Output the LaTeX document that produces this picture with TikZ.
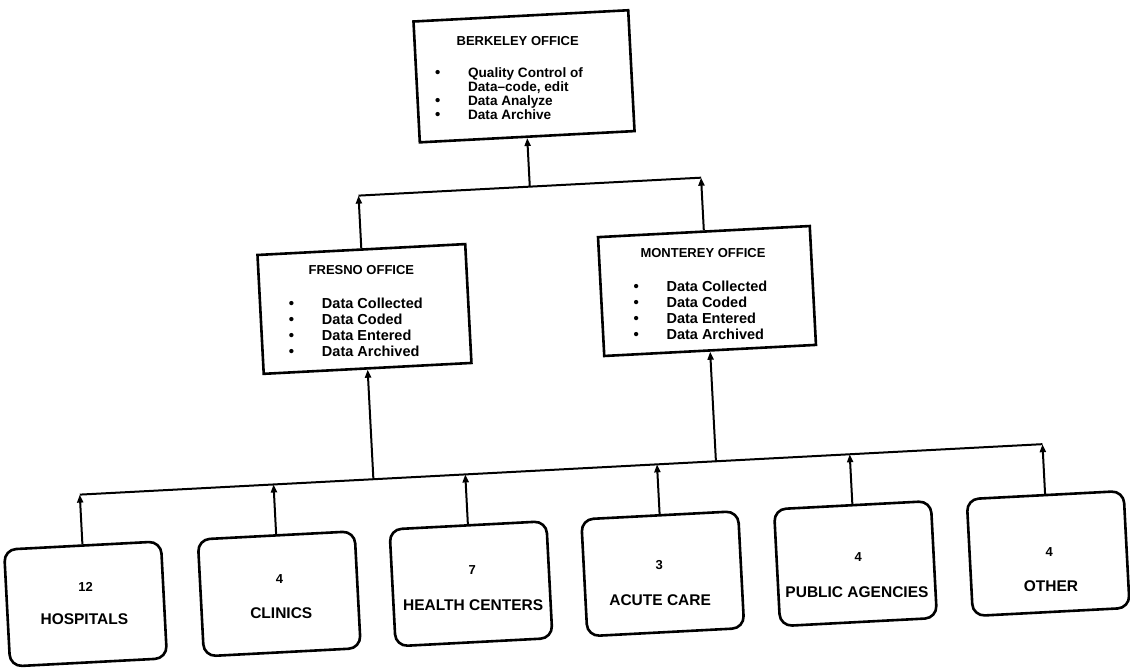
\documentclass[tikz,border=0pt]{standalone}
\usepackage{fontspec}
\setmainfont{Liberation Sans}
\usetikzlibrary{arrows.meta}
\newcommand\obul{\makebox[33pt][l]{\fontsize{15}{14}\selectfont\textbullet}}
\newcommand\onobul{\makebox[33pt][l]{}}
\begin{document}
\begin{tikzpicture}[x=1pt,y=-1pt,
  office/.style={draw, line width=2.6pt, rectangle, inner sep=0pt},
  site/.style={draw, line width=2.6pt, rounded corners=12pt, minimum width=157pt, minimum height=117pt, inner sep=0pt},
  link/.style={line width=2pt},
  arr/.style={link, -{Triangle[length=8pt,width=6pt]}},
  txt/.style={inner sep=0pt, rotate=-3},
  ttl/.style={txt, font=\bfseries\fontsize{13}{15}\selectfont},
  list/.style={txt, font=\bfseries\fontsize{14.5}{16}\selectfont, align=left, anchor=north west},
  blist/.style={txt, font=\bfseries\fontsize{13.6}{14}\selectfont, align=left, anchor=north west},
  num/.style={txt, font=\bfseries\fontsize{13}{15}\selectfont},
  lbl/.style={txt, font=\bfseries\fontsize{15.5}{17}\selectfont}]
\fill[white] (0,0) rectangle (1130,667);
\useasboundingbox (0,0) rectangle (1130,667);
\begin{scope}[rotate around={3:(565,333)}, transform shape]
% offices
\node[office, minimum width=215pt, minimum height=121pt] (berk) at (537.5,74.5) {};
\node[office, minimum width=208pt, minimum height=119pt] (fres) at (366,298.5) {};
\node[office, minimum width=212pt, minimum height=119pt] (mont) at (709,298.5) {};
% Berkeley text
\node[ttl] (berkT) at (533,39) {BERKELEY OFFICE};
\node[blist] (berkL) at (449,60.5) {\obul Quality Control of\\ \onobul Data--code, edit\\ \obul Data Analyze\\ \obul Data Archive};
% Fresno text
\node[ttl] (fresT) at (365,259) {FRESNO OFFICE};
\node[list] (fresL) at (291,283.7) {\obul Data Collected\\ \obul Data Coded\\ \obul Data Entered\\ \obul Data Archived};
% Monterey text
\node[ttl] (montT) at (707,260) {MONTEREY OFFICE};
\node[list] (montL) at (636,284.7) {\obul Data Collected\\ \obul Data Coded\\ \obul Data Entered\\ \obul Data Archived};
% sites
\node[site] (hosp) at (72,578.5) {};
\node[site] (clin) at (266,578.5) {};
\node[site] (hc) at (458,578.5) {};
\node[site] (ac) at (650,578.5) {};
\node[site] (pa) at (843,578.5) {};
\node[site] (oth) at (1036,578.5) {};
\node[num] (hospN) at (73,562) {12};
\node[lbl] (hospL) at (70,594) {HOSPITALS};
\node[num] (clinN) at (267,564) {4};
\node[lbl] (clinL) at (267,598) {CLINICS};
\node[num] (hcN) at (460,565) {7};
\node[lbl] (hcL) at (459,600) {HEALTH CENTERS};
\node[num] (acN) at (647,570) {3};
\node[lbl] (acL) at (646,605) {ACUTE CARE};
\node[num] (paN) at (846,572) {4};
\node[lbl] (paL) at (843,607) {PUBLIC AGENCIES};
\node[num] (othN) at (1037,577) {4};
\node[lbl] (othL) at (1037,611) {OTHER};
% bus coordinates
\coordinate (j1) at (72,469);
\coordinate (j2) at (266,469);
\coordinate (jF) at (366,469);
\coordinate (j3) at (458,469);
\coordinate (j4) at (650,469);
\coordinate (jM) at (709,469);
\coordinate (j5) at (843,469);
\coordinate (j6) at (1036,469);
\coordinate (uF) at (366,185);
\coordinate (uB) at (537.5,185);
\coordinate (uM) at (709,185);
% connectors
\draw[link] (j1) -- (j6);
\draw[arr] (hosp.north) -- (j1);
\draw[arr] (clin.north) -- (j2);
\draw[arr] (hc.north) -- (j3);
\draw[arr] (ac.north) -- (j4);
\draw[arr] (pa.north) -- (j5);
\draw[arr] (oth.north) -- (j6);
\draw[arr] (jF) -- (fres.south);
\draw[arr] (jM) -- (mont.south);
\draw[link] (uF) -- (uM);
\draw[arr] (fres.north) -- (uF);
\draw[arr] (mont.north) -- (uM);
\draw[arr] (uB) -- (berk.south);
\end{scope}
\end{tikzpicture}
\end{document}
